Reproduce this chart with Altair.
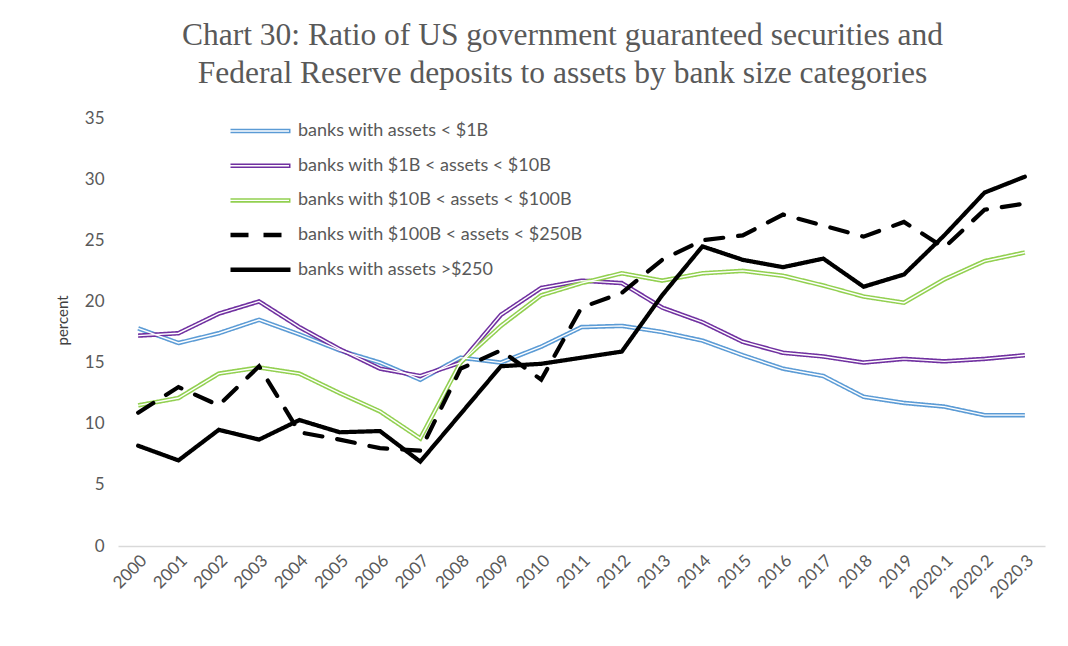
import altair as alt
import pandas as pd

periods = ["2000", "2001", "2002", "2003", "2004", "2005", "2006", "2007", "2008",
           "2009", "2010", "2011", "2012", "2013", "2014", "2015", "2016", "2017",
           "2018", "2019", "2020.1", "2020.2", "2020.3"]

series_names = [
    "banks with assets < $1B",
    "banks with $1B < assets < $10B",
    "banks with $10B < assets < $100B",
    "banks with $100B < assets < $250B",
    "banks with assets >$250",
]

under_1b = [17.8, 16.6, 17.4, 18.5, 17.3, 16.0, 15.0, 13.6, 15.4, 15.0, 16.3, 17.9,
            18.0, 17.5, 16.8, 15.6, 14.5, 13.9, 12.2, 11.7, 11.4, 10.7, 10.7]
b1_10 = [17.2, 17.4, 19.0, 20.0, 17.9, 16.1, 14.5, 13.9, 15.0, 18.9, 21.1, 21.7,
         21.5, 19.5, 18.3, 16.7, 15.8, 15.5, 15.0, 15.3, 15.1, 15.3, 15.6]
b10_100 = [11.5, 12.1, 14.1, 14.6, 14.1, 12.5, 11.0, 8.8, 15.0, 18.0, 20.5, 21.5,
           22.3, 21.7, 22.3, 22.5, 22.1, 21.3, 20.4, 19.9, 21.8, 23.3, 24.0]
b100_250 = [10.9, 13.0, 11.5, 14.7, 9.3, 8.7, 8.0, 7.8, 14.5, 16.0, 13.6, 19.5,
            20.7, 23.4, 25.0, 25.4, 27.1, 26.2, 25.3, 26.5, 24.4, 27.5, 28.0]
over_250 = [8.2, 7.0, 9.5, 8.7, 10.3, 9.3, 9.4, 6.9, 10.8, 14.7, 14.9, 15.4,
            15.9, 20.5, 24.5, 23.4, 22.8, 23.5, 21.2, 22.2, 25.4, 28.9, 30.2]

all_values = [under_1b, b1_10, b10_100, b100_250, over_250]

rows = []
for name, vals in zip(series_names, all_values):
    for p, v in zip(periods, vals):
        rows.append({"period": p, "value": v, "series": name})
df = pd.DataFrame(rows)

colors = ["#5b9bd5", "#7030a0", "#92d050", "#000000", "#000000"]
dashes = [[1, 0], [1, 0], [1, 0], [18, 15], [1, 0]]
inner_colors = ["#ffffff", "#ffffff", "#ffffff", "rgba(0,0,0,0)", "rgba(0,0,0,0)"]
# inner (white core) series keys differ by a trailing space so its legend stays separate
inner_names = [n + " " for n in series_names]

x_enc = alt.X("period:O", sort=periods, title=None,
              axis=alt.Axis(labelAngle=-45, labelFontSize=17, labelColor="#595959",
                            labelFont="Lato", ticks=False, domainColor="#d9d9d9",
                            domainWidth=1.5, labelPadding=6, grid=False))
y_enc = alt.Y("value:Q", title="percent",
              scale=alt.Scale(domain=[0, 35], nice=False),
              axis=alt.Axis(values=[0, 5, 10, 15, 20, 25, 30, 35], grid=False,
                            domain=False, ticks=False, labelFontSize=17,
                            labelColor="#595959", labelFont="Lato", labelPadding=14,
                            titleFont="Lato", titleFontSize=15,
                            titleFontWeight="normal", titleColor="#404040",
                            titleAngle=-90, titleX=-56, titleY=202,
                            titleAlign="center", titleBaseline="middle"))

legend_common = dict(orient="none", legendX=110, legendY=3, title=None,
                     symbolType="stroke", symbolSize=3600, labelFontSize=18,
                     labelFont="Lato", labelOffset=5, rowPadding=14.7, padding=0,
                     clipHeight=20, labelLimit=500)

main_legend = alt.Legend(symbolStrokeWidth=4.5, labelColor="#595959", zindex=1,
                         **legend_common)
inner_legend = alt.Legend(symbolStrokeWidth=1.4, labelColor="rgba(0,0,0,0)", zindex=2,
                          labelExpr="''", **legend_common)

color_enc = alt.Color("series:N", scale=alt.Scale(domain=series_names, range=colors),
                      legend=main_legend)
dash_enc = alt.StrokeDash("series:N", scale=alt.Scale(domain=series_names, range=dashes),
                          legend=main_legend)

base = alt.Chart(df)

outer = base.transform_filter(
    alt.FieldOneOfPredicate(field="series", oneOf=series_names[:3])
).mark_line(strokeWidth=4.5).encode(x=x_enc, y=y_enc, color=color_enc, strokeDash=dash_enc)

inner = base.transform_filter(
    alt.FieldOneOfPredicate(field="series", oneOf=series_names[:3])
).transform_calculate(
    inner_series="datum.series + ' '"
).mark_line(strokeWidth=1.4).encode(
    x=x_enc, y=y_enc,
    stroke=alt.Stroke("inner_series:N",
                      scale=alt.Scale(domain=inner_names, range=inner_colors),
                      legend=inner_legend))

black = base.transform_filter(
    alt.FieldOneOfPredicate(field="series", oneOf=series_names[3:])
).mark_line(strokeWidth=4.2, strokeCap="round").encode(
    x=x_enc, y=y_enc, color=color_enc, strokeDash=dash_enc)

chart = alt.layer(outer, inner, black).properties(
    width=927, height=428,
    background="white",
    title=alt.TitleParams(
        text=["Chart 30: Ratio of US government guaranteed securities and",
              "Federal Reserve deposits to assets by bank size categories"],
        font="Liberation Serif", fontSize=31.5, color="#595959", fontWeight="normal",
        anchor="middle", dx=-19, offset=20, lineHeight=38),
    autosize=alt.AutoSizeParams(type="none"),
    padding={"left": 110, "top": 110, "right": 15, "bottom": 80},
).configure_view(stroke=None)

chart.save("out.html", embed_options={"renderer": "svg", "actions": False})
